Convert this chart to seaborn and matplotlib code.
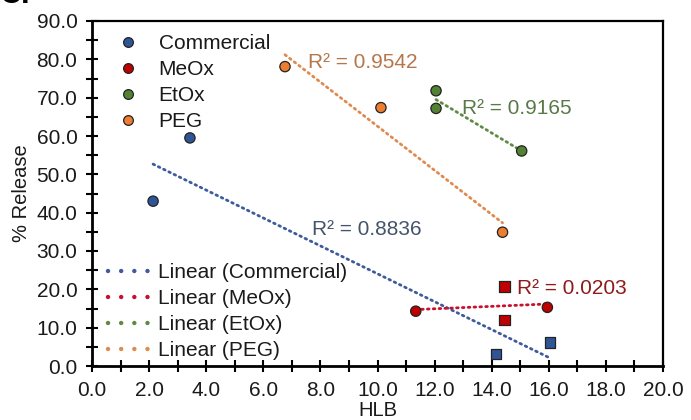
import numpy as np
import pandas as pd
import matplotlib
matplotlib.use("Agg")
import matplotlib.pyplot as plt
from matplotlib.lines import Line2D
from matplotlib.ticker import MultipleLocator, FormatStrFormatter
import seaborn as sns

# ---------------- data ----------------
groups = ["Commercial", "MeOx", "EtOx", "PEG"]
commercial_hlb = [2.14, 3.43, 14.14, 16.04]
commercial_rel = [43.0, 59.5, 3.1, 6.1]
commercial_shape = ["circle", "circle", "square", "square"]
meox_hlb = [11.34, 15.95, 14.45, 14.45]
meox_rel = [14.3, 15.3, 20.7, 12.0]
meox_shape = ["circle", "circle", "square", "square"]
etox_hlb = [12.05, 12.05, 15.05]
etox_rel = [71.8, 67.2, 56.1]
etox_shape = ["circle", "circle", "circle"]
peg_hlb = [6.76, 10.12, 14.38]
peg_rel = [78.1, 67.4, 34.9]
peg_shape = ["circle", "circle", "circle"]
r2_labels = ["R² = 0.8836", "R² = 0.0203", "R² = 0.9165", "R² = 0.9542"]
x_ticks = [0, 2, 4, 6, 8, 10, 12, 14, 16, 18, 20]
y_ticks = [0, 10, 20, 30, 40, 50, 60, 70, 80, 90]

marker_colors = {"Commercial": "#2F5597", "MeOx": "#C00000", "EtOx": "#548235", "PEG": "#ED7D31"}
line_colors = {"Commercial": "#3E5C9A", "MeOx": "#C8102E", "EtOx": "#5E8A43", "PEG": "#E08A50"}
text_colors = {"Commercial": "#44546A", "MeOx": "#8E1B1B", "EtOx": "#587A48", "PEG": "#B5764C"}
# R² label positions (data coords, left-center)
r2_pos = {"Commercial": (7.7, 35.5), "MeOx": (14.9, 20.2), "EtOx": (12.95, 67.3), "PEG": (7.55, 79.3)}

frames = []
for g, xs, ys, sh in [("Commercial", commercial_hlb, commercial_rel, commercial_shape),
                      ("MeOx", meox_hlb, meox_rel, meox_shape),
                      ("EtOx", etox_hlb, etox_rel, etox_shape),
                      ("PEG", peg_hlb, peg_rel, peg_shape)]:
    frames.append(pd.DataFrame({"group": g, "HLB": xs, "release": ys, "shape": sh}))
df = pd.concat(frames, ignore_index=True)

sns.set_theme(style="white")
plt.rcParams["font.family"] = ["Liberation Sans", "DejaVu Sans"]

fig = plt.figure(figsize=(6.91, 4.20), dpi=100)
ax = fig.add_axes([92 / 691, 1 - 366 / 420, (663 - 92) / 691, (366 - 21) / 420])

# trend lines
dot = (0, (0.6, 1.5))
for i, g in enumerate(groups):
    sub = df[df.group == g]
    sns.regplot(data=sub, x="HLB", y="release", ax=ax, scatter=False, ci=None,
                truncate=True,
                line_kws=dict(color=line_colors[g], lw=2.0, ls=dot, dash_capstyle="round"))
    tx, ty = r2_pos[g]
    ax.text(tx, ty, r2_labels[i], color=text_colors[g], fontsize=15, va="center", ha="left")

# points
sns.scatterplot(data=df, x="HLB", y="release", hue="group", style="shape",
                markers={"circle": "o", "square": "s"}, palette=marker_colors,
                s=55, edgecolor="#222222", linewidth=0.9, ax=ax, legend=False, zorder=5)

ax.set_xlim(0, 20)
ax.set_ylim(0, 90)
ax.set_xticks(x_ticks)
ax.set_yticks(y_ticks)
ax.xaxis.set_minor_locator(MultipleLocator(1))
ax.yaxis.set_minor_locator(MultipleLocator(5))
ax.xaxis.set_major_formatter(FormatStrFormatter("%.1f"))
ax.yaxis.set_major_formatter(FormatStrFormatter("%.1f"))
ax.tick_params(which="both", direction="inout", length=9, width=1.5, color="black",
               labelsize=15, labelcolor="#1a1a1a", pad=6)
ax.tick_params(which="both", top=False, right=False, bottom=True, left=True)
for s in ["left", "bottom"]:
    ax.spines[s].set_linewidth(2.0)
    ax.spines[s].set_color("black")
for s in ["top", "right"]:
    ax.spines[s].set_linewidth(1.6)
    ax.spines[s].set_color("black")
ax.set_xlabel("HLB", fontsize=14.5, color="#1a1a1a", labelpad=1)
ax.set_ylabel("% Release", fontsize=14.5, color="#1a1a1a", labelpad=4)

# legends
h1 = [Line2D([], [], ls="none", marker="o", markersize=7, markerfacecolor=marker_colors[g],
             markeredgecolor="#222222", markeredgewidth=0.9) for g in groups]
leg1 = ax.legend(h1, groups, loc="upper left", bbox_to_anchor=(0.026, 0.987), frameon=False,
                 fontsize=15, handletextpad=0.88, labelspacing=0.34, handlelength=1.2,
                 borderaxespad=0)
for t in leg1.get_texts():
    t.set_color("#1a1a1a")
ax.add_artist(leg1)
h2 = [Line2D([], [], color=line_colors[g], lw=3.2, ls=(0, (0.01, 2.95)), dash_capstyle="round")
      for g in groups]
leg2 = ax.legend(h2, ["Linear (" + g + ")" for g in groups], loc="upper left",
                 bbox_to_anchor=(0.014, 0.322), frameon=False, fontsize=15,
                 handletextpad=0.4, labelspacing=0.34, handlelength=2.0, borderaxespad=0)
for t in leg2.get_texts():
    t.set_color("#1a1a1a")

# clipped header remnants
fig.text(381 / 691, 1 + 6 / 420, "HLB", fontsize=14.5, ha="center", va="center", color="#1a1a1a")
fig.text(0.0, 1 + 5 / 420, "C.", fontsize=22, fontweight="bold", ha="left", va="center",
         color="black")

fig.savefig("out.png", dpi=100)
